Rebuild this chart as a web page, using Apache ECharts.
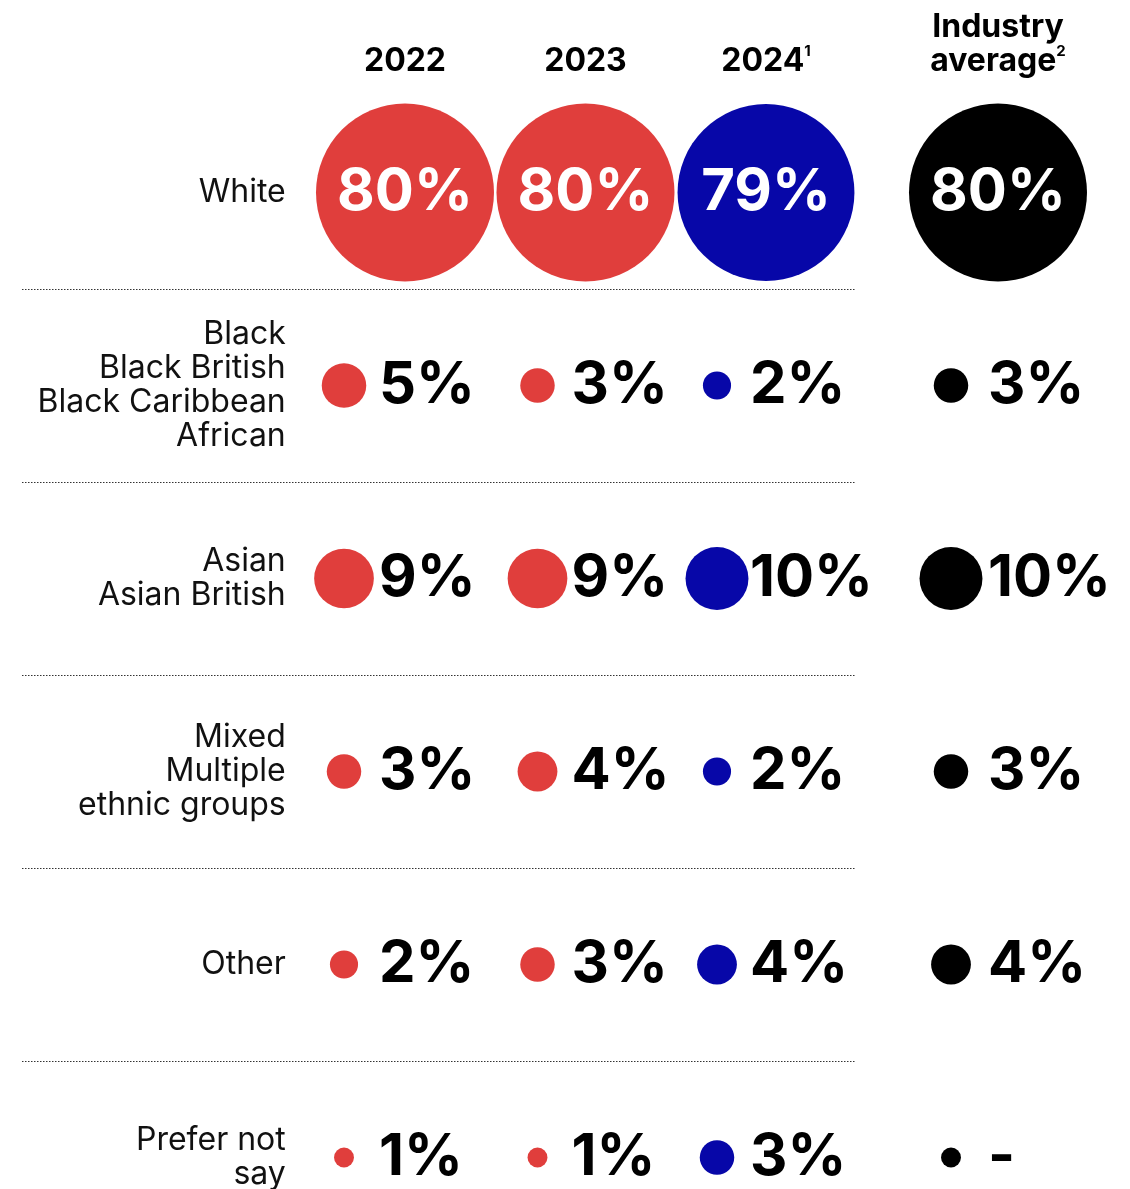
<!DOCTYPE html>
<html><head><meta charset="utf-8">
<script src="https://cdn.jsdelivr.net/npm/echarts@6/dist/echarts.min.js"></script>
<style>html,body{margin:0;padding:0;background:#fff}#chart{width:1130px;height:1189px}</style>
</head><body><div id="chart"></div>
<script>
// ---- data ----
const rows = ['White', 'Black\nBlack British\nBlack Caribbean\nAfrican', 'Asian\nAsian British', 'Mixed\nMultiple\nethnic groups', 'Other', 'Prefer not\nsay'];
const yearHeaders = ['2022', '2023', '2024{sup|1}'];
const industryHeader = ['Industry\naverage{sup|2}'];
const values2022 = [80, 5, 9, 3, 2, 1];
const values2023 = [80, 3, 9, 4, 3, 1];
const values2024 = [79, 2, 10, 2, 4, 3];
const valuesIndustry = [80, 3, 10, 3, 4, null];

// ---- style ----
const RED = '#E03E3C', BLUE = '#0707A8', BLACK = '#000000';
const FONT = 'Inter, "Noto Sans", sans-serif';
const TOP = 96, BAND = 193;
const H = BAND * rows.length;
function bubbleSize(v) { return 19.9 * Math.sqrt(v == null ? 1 : v); }

function makeSeries(values, colIdx, axisIdx, color, bubbleDx, labelDx) {
  return {
    type: 'scatter', xAxisIndex: axisIdx, yAxisIndex: axisIdx,
    silent: true, clip: false,
    symbol: 'circle',
    symbolSize: function (val) { return bubbleSize(val[2]); },
    itemStyle: { color: color, opacity: 1 },
    label: {
      show: true, position: 'inside', verticalAlign: 'middle',
      fontFamily: FONT, fontWeight: 700, fontSize: 58,
      formatter: function (p) { return p.value[2] == null ? '-' : p.value[2] + '%'; }
    },
    data: values.map(function (v, i) {
      return {
        value: [colIdx, i, v],
        symbolOffset: i === 0 ? [0, 0] : [bubbleDx, 0],
        label: i === 0
          ? { color: '#fff', align: 'center', offset: [0, 0] }
          : { color: '#000', align: 'left', offset: [labelDx - bubbleDx, 0] }
      };
    })
  };
}

const headerLabel = {
  interval: 0, margin: 18, fontFamily: FONT, fontWeight: 700, fontSize: 32,
  color: '#000', lineHeight: 34,
  rich: { sup: { fontFamily: FONT, fontWeight: 700, fontSize: 15, lineHeight: 18, verticalAlign: 'top', color: '#000' } }
};

const chart = echarts.init(document.getElementById('chart'), null, { renderer: 'canvas' });
chart.setOption({
  animation: false,
  backgroundColor: '#fff',
  grid: [
    { left: 22, width: 833, top: TOP, height: H, containLabel: false, outerBoundsMode: 'none' },
    { left: 314.75, width: 541.5, top: TOP, height: H, containLabel: false, outerBoundsMode: 'none' },
    { left: 907.5, width: 181, top: TOP, height: H, containLabel: false, outerBoundsMode: 'none' }
  ],
  xAxis: [
    { gridIndex: 0, type: 'value', show: false },
    { gridIndex: 1, type: 'category', data: yearHeaders, position: 'top',
      axisLine: { show: false }, axisTick: { show: false }, splitLine: { show: false },
      axisLabel: headerLabel },
    { gridIndex: 2, type: 'category', data: industryHeader, position: 'top',
      axisLine: { show: false }, axisTick: { show: false }, splitLine: { show: false },
      axisLabel: headerLabel }
  ],
  yAxis: [
    { gridIndex: 0, type: 'category', data: rows, inverse: true,
      axisLine: { show: false }, axisTick: { show: false }, axisLabel: { show: false },
      splitLine: { show: true, showMinLine: false, showMaxLine: false, interval: 0,
        lineStyle: { color: '#333', width: 1, type: [1.5, 1.5] } } },
    { gridIndex: 1, type: 'category', data: rows, inverse: true,
      axisLine: { show: false }, axisTick: { show: false }, splitLine: { show: false },
      axisLabel: { interval: 0, margin: 29, fontFamily: FONT, fontSize: 32, lineHeight: 34,
        color: '#111', align: 'right' } },
    { gridIndex: 2, type: 'category', data: rows, inverse: true, show: false }
  ],
  series: [
    makeSeries(values2022, 0, 1, RED, -61, -26),
    makeSeries(values2023, 1, 1, RED, -48, -14),
    makeSeries(values2024, 2, 1, BLUE, -49, -16),
    makeSeries(valuesIndustry, 0, 2, BLACK, -47, -10)
  ]
});
</script>
</body></html>
